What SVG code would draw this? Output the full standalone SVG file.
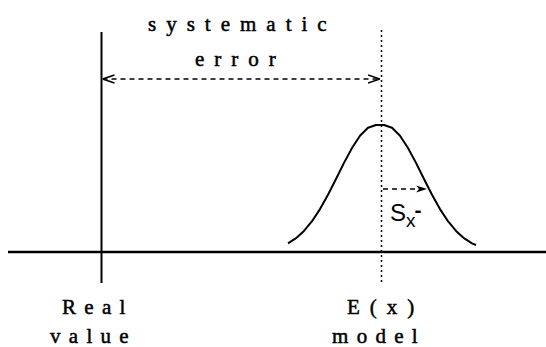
<svg xmlns="http://www.w3.org/2000/svg" width="546" height="347" viewBox="0 0 546 347">
<style>
.lbl{font-family:"Liberation Serif","Times New Roman",serif;font-size:21px;fill:#000;stroke:#000;stroke-width:0.5}
.sp8{letter-spacing:8.3px}
.sp10{letter-spacing:10px}
.sans{font-family:"Liberation Sans",Arial,sans-serif;fill:#000}
.solid{stroke:#000;stroke-width:2;fill:none}
.dotted{stroke:#000;stroke-width:1.5;stroke-dasharray:2 3;fill:none}
.dash{stroke:#000;stroke-width:1.5;stroke-dasharray:5 4;fill:none}
</style>
<defs>
<marker id="open" viewBox="0 0 12 10" refX="12" refY="5" markerWidth="12" markerHeight="10" markerUnits="userSpaceOnUse" orient="auto-start-reverse">
<path d="M0,1 L12,5 L0,9" fill="none" stroke="#000" stroke-width="1.6"/>
</marker>
<marker id="fill" viewBox="0 0 12 10" refX="12" refY="5" markerWidth="12" markerHeight="9" markerUnits="userSpaceOnUse" orient="auto">
<path d="M0,1 L12,5 L0,9 L3,5 Z" fill="#000"/>
</marker>
</defs>
<rect width="546" height="347" fill="#fff"/>
<g id="axis">
<line x1="8" y1="252" x2="546" y2="252" stroke="#000" stroke-width="2.5"/>
</g>
<g id="real-value">
<line class="solid" x1="101.5" y1="32" x2="101.5" y2="283"/>
<text class="lbl sp8" x="62" y="314">Real</text>
<text class="lbl sp8" x="50" y="343">value</text>
</g>
<g id="expected">
<line class="dotted" x1="381.5" y1="30" x2="381.5" y2="283"/>
<text class="lbl sp10" x="347" y="314">E(x)</text>
<text class="lbl sp8" x="332" y="343">model</text>
</g>
<g id="distribution">
<polyline class="solid" stroke-linejoin="round" points="288,243.3 296,238.2 304,230.9 312,221.2 320,209.1 328,194.8 336,179 344,162.9 352,148 360,135.8 368,127.8 376,125 384,125 392,127.8 400,135.8 408,148 416,162.9 424,179 432,194.8 440,209.1 448,221.2 456,230.9 464,238.2 472,243.3 476,245"/>
</g>
<g id="connectors">
<line class="dash" x1="102.5" y1="79" x2="380" y2="79" marker-start="url(#open)" marker-end="url(#open)"/>
<line class="dash" x1="383" y1="189" x2="427" y2="189" marker-end="url(#fill)"/>
</g>
<g id="systematic-error">
<text class="lbl sp10" x="148" y="31">systematic</text>
<text class="lbl sp10" x="195" y="66">error</text>
</g>
<g id="sx-label">
<text class="sans" x="390" y="221" font-size="24">S<tspan font-size="19" dy="6">x</tspan><tspan font-size="21" dy="-10" dx="-1" font-weight="bold">-</tspan></text>
</g>
</svg>
